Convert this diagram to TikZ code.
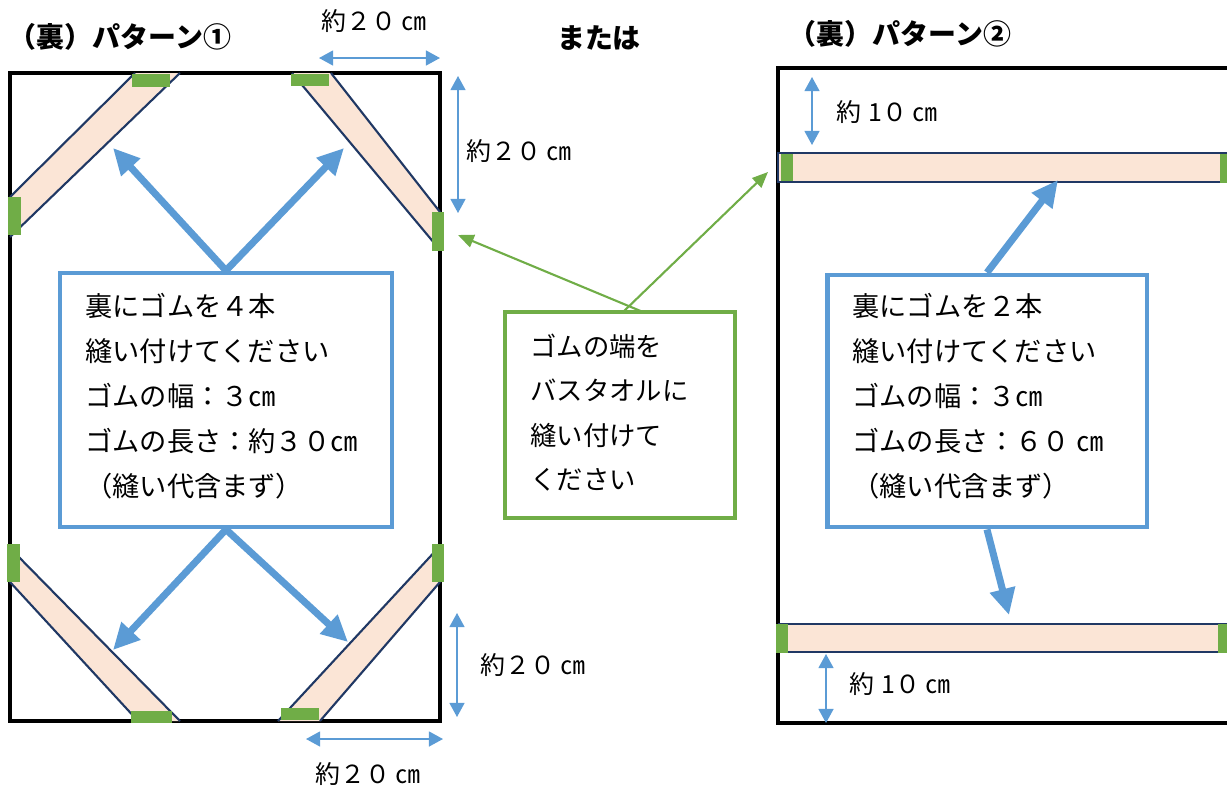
\documentclass[tikz,border=0pt]{standalone}
\usepackage{fontspec}
\setmainfont{Noto Sans CJK JP}
\usetikzlibrary{arrows.meta}

\definecolor{tapeblue}{HTML}{5B9BD5}
\definecolor{tapegreen}{HTML}{70AD47}
\definecolor{bandfill}{HTML}{FBE5D6}
\definecolor{bandline}{HTML}{203864}

\tikzset{
  frame/.style={draw=black, line width=1.9pt},
  band/.style={fill=bandfill, draw=none},
  bandedge/.style={draw=bandline, line width=1.2pt},
  patch/.style={fill=tapegreen, draw=none},
  notebox/.style={draw=tapeblue, line width=2.8pt, fill=white, inner sep=0pt},
  greenbox/.style={draw=tapegreen, line width=2.5pt, fill=white, inner sep=0pt},
  boxline/.style={font=\fontsize{15.5}{18}\selectfont, anchor=west, inner sep=0pt,
    text height=0.88em, text depth=0.12em},
  titletext/.style={font=\fontsize{15.9}{18}\selectfont\bfseries, inner sep=0pt,
    text height=0.88em, text depth=0.12em},
  dimtext/.style={font=\fontsize{14.2}{16}\selectfont, inner sep=0pt,
    text height=0.88em, text depth=0.12em},
  dim/.style={tapeblue, line width=0.9pt,
    {Triangle[length=8pt,width=8.5pt]}-{Triangle[length=8pt,width=8.5pt]}},
  bigarrow/.style={tapeblue, line width=4pt, -{Triangle[length=15pt,width=14pt]}},
  pointer/.style={tapegreen, line width=1.2pt, -{Triangle[length=9pt,width=7.5pt]}},
}

\begin{document}
\begin{tikzpicture}[x=0.02cm, y=-0.02cm]
\clip (0,0) rectangle (1227,792);

% pattern 1
\node[titletext] (title1) at (120,41) {（裏）パターン①};
\node[titletext] (or) at (599,42) {または};
\draw[frame] (10,73) rectangle (440,721);

% bands, corner by corner
\fill[band] (135,73) -- (180,73) -- (10,237) -- (10,197) -- cycle;
\draw[bandedge] (135,73) -- (10,197) (180,73) -- (10,237);
\fill[band] (292,73) -- (331,73) -- (440,212) -- (440,250) -- cycle;
\draw[bandedge] (331,73) -- (440,212) (292,73) -- (440,250);
\fill[band] (10,548) -- (180,721) -- (138,721) -- (10,582) -- cycle;
\draw[bandedge] (10,548) -- (180,721) (10,582) -- (138,721);
\fill[band] (440,546) -- (278,721) -- (320,721) -- (440,582) -- cycle;
\draw[bandedge] (440,546) -- (278,721) (440,582) -- (320,721);

\fill[patch] (132,74) rectangle (170,87);
\fill[patch] (8,197) rectangle (21,235);
\fill[patch] (291,74) rectangle (329,86);
\fill[patch] (432,212) rectangle (444,251);
\fill[patch] (7,544) rectangle (20,582);
\fill[patch] (131,711) rectangle (172,723);
\fill[patch] (432,544) rectangle (444,582);
\fill[patch] (281,708) rectangle (319,720);

\node[notebox, minimum width=6.64cm, minimum height=5.08cm] (lbox) at (226,400) {};
\foreach \ln [count=\i] in {裏にゴムを４本,縫い付けてください,ゴムの幅：３㎝,ゴムの長さ：約３０㎝,（縫い代含まず）}
  \node[boxline] (ltext\i) at (85,{265+45*\i}) {\ln};

\coordinate (tl) at (113,148);
\coordinate (tr) at (344,148);
\coordinate (bl) at (113,650);
\coordinate (br) at (348,642);
\draw[bigarrow] (lbox.north) -- (tl);
\draw[bigarrow] (lbox.north) -- (tr);
\draw[bigarrow] (lbox.south) -- (bl);
\draw[bigarrow] (lbox.south) -- (br);

% sizes
\coordinate (d1a) at (319,58);  \coordinate (d1b) at (440,58);
\coordinate (d2a) at (458,76);  \coordinate (d2b) at (458,213);
\coordinate (d3a) at (457,613); \coordinate (d3b) at (457,717);
\coordinate (d4a) at (306,739); \coordinate (d4b) at (443,739);
\draw[dim] (d1a) -- (d1b);
\draw[dim] (d2a) -- (d2b);
\draw[dim] (d3a) -- (d3b);
\draw[dim] (d4a) -- (d4b);
\node[dimtext] (s1) at (374,24) {約２０ ㎝};
\node[dimtext] (s2) at (519,154) {約２０ ㎝};
\node[dimtext] (s3) at (533,668) {約２０ ㎝};
\node[dimtext] (s4) at (368,777) {約２０ ㎝};

% note in the middle
\node[greenbox, minimum width=4.6cm, minimum height=4.12cm] (gbox) at (620,415) {};
\foreach \ln [count=\i] in {ゴムの端を,バスタオルに,縫い付けて,ください}
  \node[boxline, font=\fontsize{15}{18}\selectfont] (gtext\i) at (530,{305+44.5*\i}) {\ln};
\coordinate (g1) at (643,312);
\coordinate (g2) at (623,312);
\coordinate (gl) at (458,235);
\coordinate (gr) at (768,172);
\draw[pointer] (g1) -- (gl);
\draw[pointer] (g2) -- (gr);

% pattern 2
\node[titletext] (title2) at (900,38) {（裏）パターン②};
\draw[frame] (778,68) rectangle (1240,723);
\fill[band] (778,153) rectangle (1240,182);
\draw[bandedge] (778,153) rectangle (1240,182);
\fill[band] (778,624) rectangle (1240,652);
\draw[bandedge] (778,624) -- (1240,624) (788,652) -- (1218,652);
\fill[patch] (781,154) rectangle (793,181);
\fill[patch] (1220,154) rectangle (1240,183);
\fill[patch] (776,624) rectangle (788,653);
\fill[patch] (1218,624) rectangle (1240,653);

\coordinate (d5a) at (812,77);  \coordinate (d5b) at (812,145);
\coordinate (d6a) at (826,654); \coordinate (d6b) at (826,723);
\draw[dim] (d5a) -- (d5b);
\draw[dim] (d6a) -- (d6b);
\node[dimtext] (s5) at (887,115) {約\hspace{0.3em}1０ ㎝};
\node[dimtext] (s6) at (900,687) {約\hspace{0.3em}1０ ㎝};

\node[notebox, minimum width=6.4cm, minimum height=5.04cm] (rbox) at (987,401) {};
\foreach \ln [count=\i] in {裏にゴムを２本,縫い付けてください,ゴムの幅：３㎝,ゴムの長さ：６０ ㎝,（縫い代含まず）}
  \node[boxline] (rtext\i) at (852,{265+45*\i}) {\ln};

\coordinate (rt) at (1058,180);
\coordinate (rb) at (1009,615);
\draw[bigarrow] (rbox.north) -- (rt);
\draw[bigarrow] (rbox.south) -- (rb);
\end{tikzpicture}
\end{document}
